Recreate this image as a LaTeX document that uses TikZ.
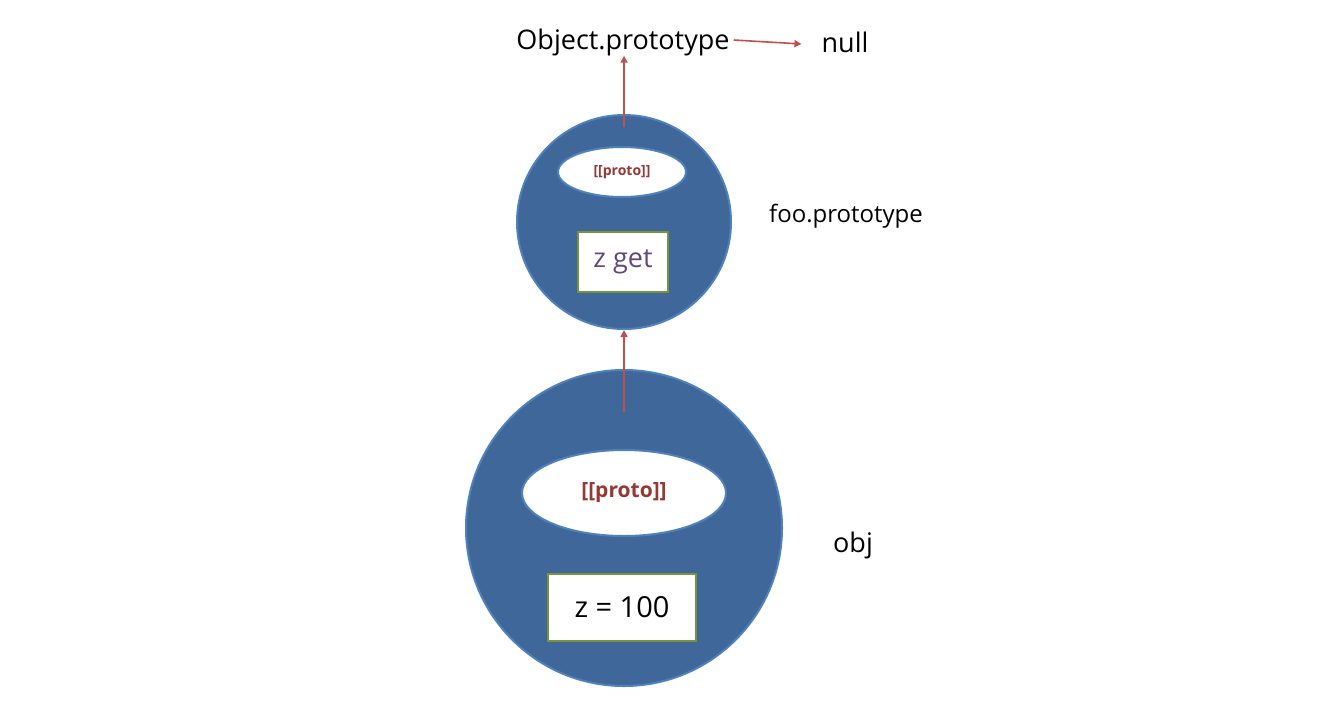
\documentclass[tikz,border=0pt]{standalone}
\usepackage{fontspec}
\setmainfont{Open Sans}
\usetikzlibrary{arrows.meta,shapes.geometric}
\definecolor{cfill}{RGB}{63,103,153}
\definecolor{cline}{RGB}{79,129,189}
\definecolor{arr}{RGB}{192,80,77}
\definecolor{prot}{RGB}{150,55,52}
\definecolor{gbox}{RGB}{119,147,60}
\definecolor{getc}{RGB}{96,73,122}
\tikzset{
 obj/.style={circle,fill=cfill,draw=cline,line width=2pt,inner sep=0pt},
 protoell/.style={ellipse,fill=white,draw=cline,line width=2pt,inner sep=0pt,text=prot,font=\bfseries},
 valbox/.style={rectangle,fill=white,draw=gbox,line width=2pt,inner sep=0pt},
 arrowline/.style={draw=arr,line width=1.6pt,-{Triangle[length=7pt,width=7pt]}},
 lbl/.style={inner sep=0pt,text=black}
}
\begin{document}
\begin{tikzpicture}[x=1pt,y=-1pt]
\useasboundingbox (0,0) rectangle (1330,718);
\node[lbl,font=\fontsize{27}{30}\selectfont] (op) at (623,42) {Object.prototype};
\node[lbl,font=\fontsize{27}{30}\selectfont] (null) at (845,42) {null};
\node[obj,minimum size=214pt] (foo) at (624,222) {};
\node[protoell,minimum width=128pt,minimum height=50pt,font=\bfseries\fontsize{14}{16}\selectfont] (fp) at (622,172) {[[proto]]};
\node[valbox,minimum width=90pt,minimum height=60pt,text=getc,font=\fontsize{27}{30}\selectfont] (zg) at (623,262) {z get};
\node[lbl,font=\fontsize{24}{28}\selectfont] (fl) at (846,216) {foo.prototype};
\node[obj,minimum size=316pt] (o) at (624,528) {};
\node[protoell,minimum width=204pt,minimum height=86pt,font=\bfseries\fontsize{21}{24}\selectfont] (opr) at (624,493) {[[proto]]};
\node[valbox,minimum width=148pt,minimum height=67pt,font=\fontsize{29}{32}\selectfont] (z) at (622,607) {z = 100};
\node[lbl,font=\fontsize{27}{30}\selectfont] (ol) at (853,545) {obj};
\coordinate (a1) at (624,127);
\coordinate (a2) at (624,412);
\draw[arrowline] (a1) -- (op.south -| a1);
\draw[arrowline] (a2) -- (foo.south);
\draw[arrowline] (op.east) ++(4,-2) coordinate (h1) -- ([xshift=-20pt,yshift=-2pt]null.west);
\end{tikzpicture}
\end{document}
